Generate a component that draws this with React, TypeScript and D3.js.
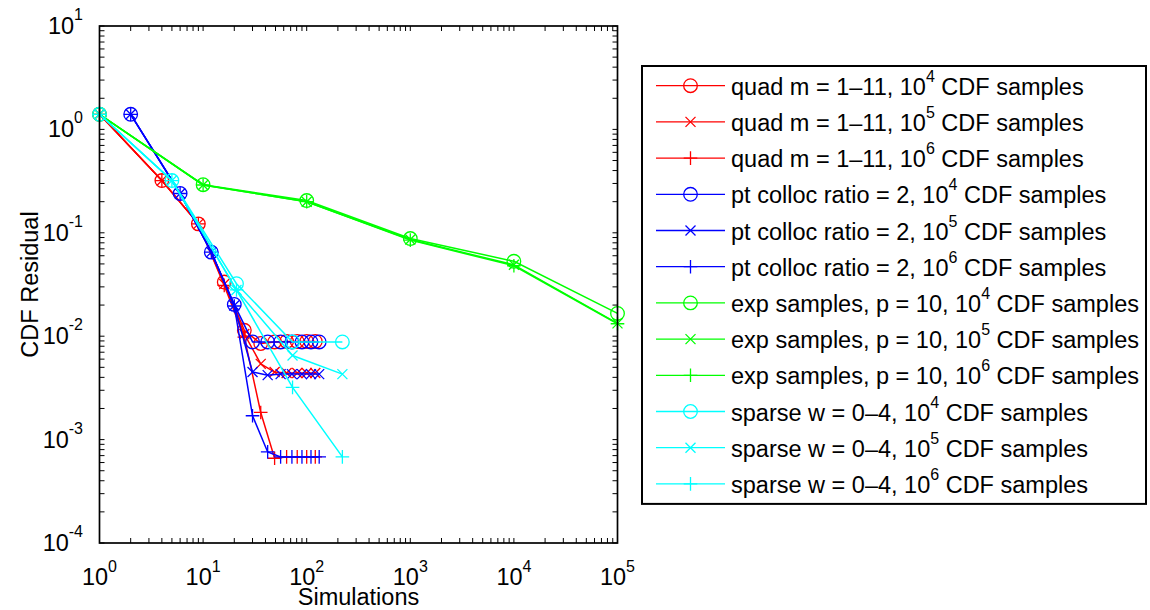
import React from 'react';
import * as d3 from 'd3';

// simulation counts per method
const quadX = [1, 4, 9, 16, 25, 36, 49, 64, 81, 100, 121];
const collocX = [2, 6, 12, 20, 30, 42, 56, 72, 90, 110, 132];
const expX = [1, 10, 100, 1000, 10000, 100000];
const sparseX = [1, 5, 21, 73, 221];

// CDF residuals, 10^4 / 10^5 / 10^6 CDF samples
const quad4 = [1.4, 0.32, 0.122, 0.0334, 0.0114, 0.0085, 0.0088, 0.0089, 0.0089, 0.0089, 0.0089];
const quad5 = [1.4, 0.32, 0.122, 0.032, 0.0105, 0.0054, 0.0045, 0.0044, 0.0044, 0.0044, 0.0044];
const quad6 = [1.4, 0.32, 0.122, 0.031, 0.0098, 0.00183, 0.00066, 0.00068, 0.00068, 0.00068, 0.00068];
const colloc4 = [1.4, 0.24, 0.065, 0.0203, 0.0088, 0.0088, 0.0088, 0.0088, 0.0088, 0.0088, 0.0088];
const colloc5 = [1.4, 0.24, 0.065, 0.0198, 0.0045, 0.0042, 0.0043, 0.0043, 0.0043, 0.0043, 0.0043];
const colloc6 = [1.4, 0.24, 0.065, 0.0196, 0.0017, 0.00076, 0.00068, 0.00068, 0.00068, 0.00068, 0.00068];
const exp4 = [1.4, 0.292, 0.205, 0.088, 0.053, 0.0166];
const exp5 = [1.4, 0.29, 0.2, 0.086, 0.049, 0.0133];
const exp6 = [1.4, 0.29, 0.2, 0.085, 0.048, 0.0132];
const sparse4 = [1.4, 0.32, 0.0322, 0.0088, 0.0088];
const sparse5 = [1.4, 0.32, 0.028, 0.0065, 0.0043];
const sparse6 = [1.4, 0.32, 0.028, 0.0032, 0.00068];

const methodNames = ['quad m = 1\u201311', 'pt colloc ratio = 2', 'exp samples, p = 10', 'sparse w = 0\u20134'];
const methodColors = ['#ff0000', '#0000ff', '#00ff00', '#00ffff'];
const sampleExps = [4, 5, 6];
const markerTypes = ['circle', 'x', 'plus'];

const xTicks = [1, 10, 100, 1000, 10000, 100000];
const yTicks = [1e1, 1e0, 1e-1, 1e-2, 1e-3, 1e-4];

const seriesList = [
  { x: quadX, y: [quad4, quad5, quad6] },
  { x: collocX, y: [colloc4, colloc5, colloc6] },
  { x: expX, y: [exp4, exp5, exp6] },
  { x: sparseX, y: [sparse4, sparse5, sparse6] },
];

const W = 1150, H = 610;
const margin = { left: 99.5, top: 26, right: 617.5, bottom: 543 };
const FONT = '"Liberation Sans", Arial, Helvetica, sans-serif';
const FS = 23.5; // main font size
const SUP = 16; // superscript size

function Marker({ type, cx, cy, color }) {
  if (type === 'circle') {
    return <circle cx={cx} cy={cy} r={6.8} fill="none" stroke={color} strokeWidth={1.3} />;
  }
  if (type === 'x') {
    const s = 5;
    return (
      <path
        d={`M${cx - s},${cy - s}L${cx + s},${cy + s}M${cx - s},${cy + s}L${cx + s},${cy - s}`}
        stroke={color}
        strokeWidth={1.3}
      />
    );
  }
  const s = 6.8;
  return <path d={`M${cx - s},${cy}L${cx + s},${cy}M${cx},${cy - s}L${cx},${cy + s}`} stroke={color} strokeWidth={1.3} />;
}

export default function App() {
  const x = d3.scaleLog().domain([1, 1e5]).range([margin.left, margin.right]);
  const y = d3.scaleLog().domain([1e-4, 1e1]).range([margin.bottom, margin.top]);

  const line = d3
    .line<[number, number]>()
    .x((d) => x(d[0]))
    .y((d) => y(d[1]));

  // minor ticks
  const xMinor: number[] = [];
  for (let e = 0; e < 5; e++) for (let k = 2; k <= 9; k++) xMinor.push(k * Math.pow(10, e));
  const yMinor: number[] = [];
  for (let e = -4; e < 1; e++) for (let k = 2; k <= 9; k++) yMinor.push(k * Math.pow(10, e));

  const tl = 5;
  const ticks: string[] = [];
  [...xTicks, ...xMinor].forEach((v) => {
    const px = x(v);
    ticks.push(`M${px},${margin.bottom}V${margin.bottom - tl}M${px},${margin.top}V${margin.top + tl}`);
  });
  [...yTicks, ...yMinor].forEach((v) => {
    const py = y(v);
    ticks.push(`M${margin.left},${py}H${margin.left + tl}M${margin.right},${py}H${margin.right - tl}`);
  });

  // legend
  const legLeft = 642, legRight = 1146, legTop = 66, rowH = 36.2, firstRow = 85.7;
  const legBottom = firstRow + rowH * 11 + 20;
  const entries: { name: string; exp: number; color: string; marker: string }[] = [];
  methodNames.forEach((n, i) =>
    sampleExps.forEach((e, j) => entries.push({ name: n, exp: e, color: methodColors[i], marker: markerTypes[j] }))
  );

  return (
    <svg width={W} height={H} style={{ position: 'absolute', left: 0, top: 0, background: '#fff' }} fontFamily={FONT}>
      <rect x={0} y={0} width={W} height={H} fill="#fff" />
      <g>
        {seriesList.map((s, i) =>
          s.y.map((ys, j) => {
            const pts = s.x.map((v, k) => [v, ys[k]] as [number, number]);
            return (
              <g key={`${i}-${j}`}>
                <path d={line(pts) || ''} fill="none" stroke={methodColors[i]} strokeWidth={1.5} />
                {pts.map((p, k) => (
                  <Marker key={k} type={markerTypes[j]} cx={x(p[0])} cy={y(p[1])} color={methodColors[i]} />
                ))}
              </g>
            );
          })
        )}
      </g>
      <path d={ticks.join('')} stroke="#000" strokeWidth={1} fill="none" />
      <rect
        x={margin.left}
        y={margin.top}
        width={margin.right - margin.left}
        height={margin.bottom - margin.top}
        fill="none"
        stroke="#000"
        strokeWidth={1.7}
      />
      {yTicks.map((v) => (
        <text key={v} x={83} y={y(v) + 8} textAnchor="end" fontSize={FS} fill="#000">
          10
          <tspan fontSize={SUP} dy={-14}>
            {Math.round(Math.log10(v))}
          </tspan>
        </text>
      ))}
      {xTicks.map((v) => (
        <text key={v} x={x(v)} y={585} textAnchor="middle" fontSize={FS} fill="#000">
          10
          <tspan fontSize={SUP} dy={-13}>
            {Math.round(Math.log10(v))}
          </tspan>
        </text>
      ))}
      <text x={(margin.left + margin.right) / 2} y={605} textAnchor="middle" fontSize={FS}>
        Simulations
      </text>
      <text
        transform={`translate(38,${(margin.top + margin.bottom) / 2}) rotate(-90)`}
        textAnchor="middle"
        fontSize={FS}
      >
        CDF Residual
      </text>
      <rect x={legLeft} y={legTop} width={legRight - legLeft} height={legBottom - legTop} fill="#fff" stroke="#000" strokeWidth={2} />
      {entries.map((en, i) => {
        const cy = firstRow + i * rowH;
        return (
          <g key={i}>
            <line x1={656} x2={725} y1={cy} y2={cy} stroke={en.color} strokeWidth={1.3} />
            <Marker type={en.marker} cx={690.5} cy={cy} color={en.color} />
            <text x={731} y={cy + 9} fontSize={FS} fill="#000">
              {en.name}, 10
              <tspan fontSize={SUP} dy={-13}>
                {en.exp}
              </tspan>
              <tspan dy={13}> CDF samples</tspan>
            </text>
          </g>
        );
      })}
    </svg>
  );
}
